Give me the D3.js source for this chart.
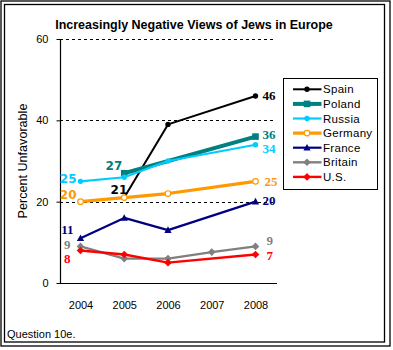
<!DOCTYPE html>
<html>
<head>
<meta charset="utf-8">
<script src="https://cdn.jsdelivr.net/npm/d3@7"></script>
<style>
html,body{margin:0;padding:0;background:#fff;}
svg{display:block;}
</style>
</head>
<body>
<script>
// ---- data ----
const years = [2004, 2005, 2006, 2007, 2008];
const countries = ["Spain", "Poland", "Russia", "Germany", "France", "Britain", "U.S."];
const spain   = [null, 21, 39, null, 46];
const poland  = [null, 27, null, null, 36];
const russia  = [25, 26, 30, null, 34];
const germany = [20, 21, 22, null, 25];
const france  = [11, 16, 13, null, 20];
const britain = [9, 6, 6, 7.6, 9];
const us      = [8, 7, 5, null, 7];
const yTicks = [0, 20, 40, 60];
const title = "Increasingly Negative Views of Jews in Europe";
const yTitle = "Percent Unfavorable";
const note = "Question 10e.";

const seriesValues = [spain, poland, russia, germany, france, britain, us];

// ---- styles ----
const colors = ["#000000", "#008080", "#00CCFF", "#FF9900", "#000080", "#808080", "#FF0000"];
const widths = [2, 4, 2.2, 3.2, 2.2, 2.4, 2.4];
const markers = ["circle", "square", "circle", "open", "triangle", "diamond", "diamond"];

// point labels: [seriesIndex, yearIndex, dx, dy, anchor, family]
const serif = "'Liberation Serif','Times New Roman',serif";
const sans = "Verdana,'DejaVu Sans',sans-serif";
const labelSpecs = [
  [2, 0, -4, -3, "end", sans],
  [3, 0, -4, -7, "end", sans],
  [4, 0, -7, -9, "end", serif],
  [5, 0, -10, -2, "end", serif],
  [6, 0, -10, 8, "end", serif],
  [1, 1, -2, -7, "end", sans],
  [0, 1, 3, -8, "end", sans],
  [0, 4, 7, 0, "start", serif],
  [1, 4, 7, -2, "start", serif],
  [2, 4, 7, 4, "start", serif],
  [3, 4, 9, 0, "start", serif],
  [4, 4, 7, -1.5, "start", serif],
  [5, 4, 11, -6, "start", serif],
  [6, 4, 11, 0.5, "start", serif]
];

const W = 393, H = 350;
const svg = d3.select("body").append("svg").attr("width", W).attr("height", H);

svg.append("rect").attr("width", W).attr("height", H).attr("fill", "#fff");
svg.append("rect").attr("x", 1).attr("y", 1).attr("width", 389).attr("height", 345)
  .attr("fill", "none").attr("stroke", "#000").attr("stroke-width", 1.3);
svg.append("rect").attr("x", 4.5).attr("y", 4.5).attr("width", 380).attr("height", 337.5)
  .attr("fill", "none").attr("stroke", "#000").attr("stroke-width", 1.3);

const x = d3.scaleLinear().domain([2004, 2008]).range([80.5, 255.5]);
const y = d3.scaleLinear().domain([0, 60]).range([283, 39]);

// title
svg.append("text").attr("x", 194).attr("y", 28.5).attr("text-anchor", "middle")
  .attr("font-family", "'Liberation Sans',Arial,sans-serif").attr("font-weight", "bold")
  .attr("font-size", 12.5).text(title);

// gridlines
svg.append("g").selectAll("line").data(yTicks.filter(d => d > 0)).join("line")
  .attr("x1", 60).attr("x2", 276)
  .attr("y1", d => Math.round(y(d)) + 0.5).attr("y2", d => Math.round(y(d)) + 0.5)
  .attr("stroke", "#000").attr("stroke-width", 1).attr("stroke-dasharray", "3,3");

// y axis
const yAxis = d3.axisLeft(y).tickValues(yTicks).tickSize(4).tickPadding(8);
const gy = svg.append("g").attr("transform", "translate(60.5,0)").call(yAxis);
gy.select(".domain").attr("d", `M0,${y(60)}V${y(0)}`).attr("stroke", "#000").attr("stroke-width", 1.2);
gy.selectAll(".tick line").attr("stroke", "#000");
gy.selectAll(".tick text").attr("font-family", "'Liberation Sans',Arial,sans-serif")
  .attr("font-size", 11).attr("fill", "#000");

// x axis
const xAxis = d3.axisBottom(x).tickValues(years).tickFormat(d3.format("d")).tickSize(0).tickPadding(18);
const gx = svg.append("g").attr("transform", `translate(0,${Math.round(y(0)) + 0.5})`).call(xAxis);
gx.select(".domain").attr("d", "M60,0H277").attr("stroke", "#000").attr("stroke-width", 1.2);
gx.selectAll(".tick text").attr("font-family", "'Liberation Sans',Arial,sans-serif")
  .attr("font-size", 11).attr("fill", "#000");

// y title
svg.append("text").attr("transform", `translate(27,${(y(0) + y(60)) / 2}) rotate(-90)`)
  .attr("text-anchor", "middle").attr("font-family", "'Liberation Sans',Arial,sans-serif")
  .attr("font-size", 12.6).text(yTitle);

// note
svg.append("text").attr("x", 7).attr("y", 338).attr("font-family", "'Liberation Sans',Arial,sans-serif")
  .attr("font-size", 11).text(note);

function drawMarker(g, type, cx, cy, color) {
  if (type === "circle") {
    g.append("circle").attr("cx", cx).attr("cy", cy).attr("r", 2.7).attr("fill", color);
  } else if (type === "open") {
    g.append("circle").attr("cx", cx).attr("cy", cy).attr("r", 2.8).attr("fill", "#fff")
      .attr("stroke", color).attr("stroke-width", 1.2);
  } else if (type === "square") {
    g.append("rect").attr("x", cx - 3.3).attr("y", cy - 3.3).attr("width", 6.6).attr("height", 6.6).attr("fill", color);
  } else if (type === "triangle") {
    g.append("path").attr("d", `M${cx},${cy - 3.8}L${cx + 3.6},${cy + 2.8}L${cx - 3.6},${cy + 2.8}Z`).attr("fill", color);
  } else if (type === "diamond") {
    g.append("path").attr("d", `M${cx},${cy - 3.8}L${cx + 3.8},${cy}L${cx},${cy + 3.8}L${cx - 3.8},${cy}Z`).attr("fill", color);
  }
}

const line = d3.line().x(d => x(d.year)).y(d => y(d.value));

seriesValues.forEach((vals, i) => {
  const pts = years.map((yr, j) => ({ year: yr, value: vals[j] })).filter(d => d.value != null);
  const g = svg.append("g");
  g.append("path").datum(pts).attr("d", line).attr("fill", "none")
    .attr("stroke", colors[i]).attr("stroke-width", widths[i]).attr("stroke-linejoin", "round");
  pts.forEach(p => drawMarker(g, markers[i], x(p.year), y(p.value), colors[i]));
});

// point labels
labelSpecs.forEach(([si, yi, dx, dy, anchor, fam]) => {
  const v = seriesValues[si][yi];
  svg.append("text").attr("x", x(years[yi]) + dx).attr("y", y(v) + dy)
    .attr("dy", "0.35em").attr("text-anchor", anchor)
    .attr("font-family", fam).attr("font-weight", "bold")
    .attr("font-size", fam === serif ? 13 : 12)
    .attr("fill", colors[si]).text(Math.round(v));
});

// legend
const lg = svg.append("g");
lg.append("rect").attr("x", 283.5).attr("y", 78.5).attr("width", 94).attr("height", 111)
  .attr("fill", "#fff").attr("stroke", "#000").attr("stroke-width", 1);
countries.forEach((c, i) => {
  const cy = 89.3 + i * 14.6;
  lg.append("line").attr("x1", 293).attr("x2", 321.5).attr("y1", cy).attr("y2", cy)
    .attr("stroke", colors[i]).attr("stroke-width", widths[i]);
  drawMarker(lg, markers[i], 307, cy, colors[i]);
  lg.append("text").attr("x", 323).attr("y", cy).attr("dy", "0.36em")
    .attr("font-family", "'Liberation Sans',Arial,sans-serif").attr("font-size", 11.5)
    .attr("letter-spacing", 0.3).text(c);
});
</script>
</body>
</html>
